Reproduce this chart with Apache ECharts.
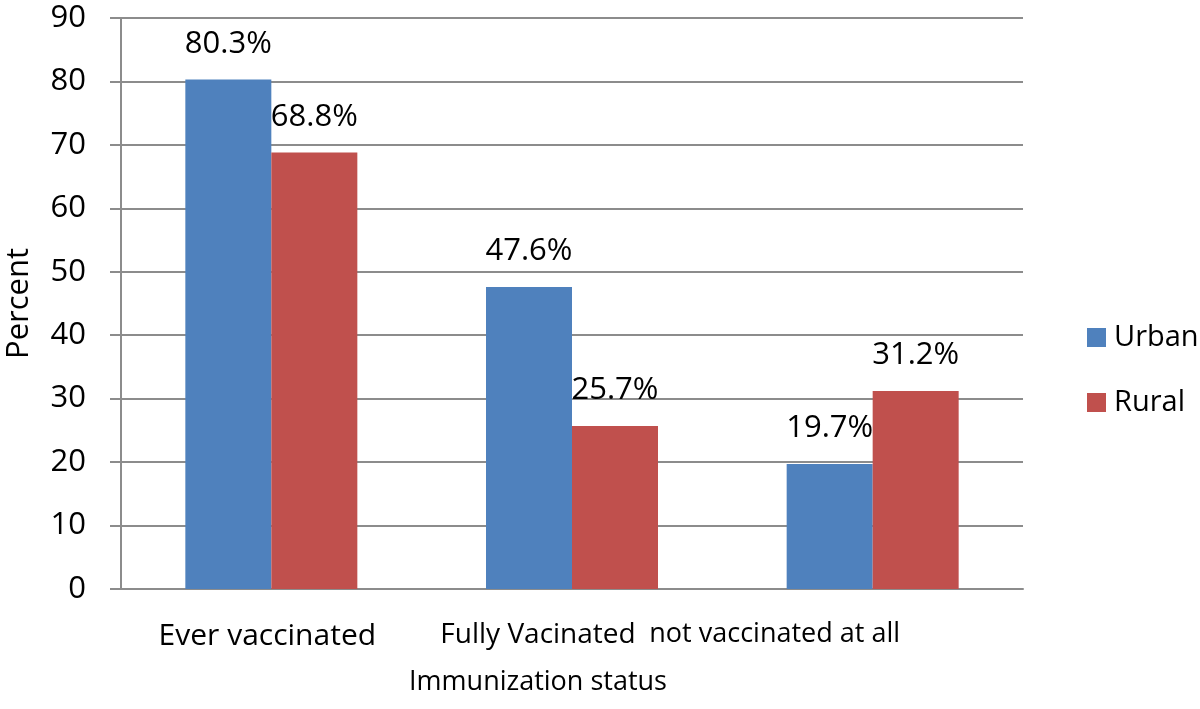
<!DOCTYPE html>
<html>
<head>
<meta charset="utf-8">
<script src="https://cdn.jsdelivr.net/npm/echarts@6/dist/echarts.min.js"></script>
<style>
html,body{margin:0;padding:0;background:#fff;}
#chart{width:1200px;height:709px;}
</style>
</head>
<body>
<div id="chart"></div>
<script>
const categories = ['Ever vaccinated', 'Fully Vacinated', 'not vaccinated at all'];
const urban = [80.3, 47.6, 19.7];
const rural = [68.8, 25.7, 31.2];
const seriesNames = ['Urban', 'Rural'];
const yTicks = { min: 0, max: 90, interval: 10 };
const xAxisTitle = 'Immunization status';
const yAxisTitle = 'Percent';

const FONT = '"Open Sans", sans-serif';
const FS = 31;
const GRID_COLOR = '#8c8c8c';
// shift of each category label (Excel placed them off-centre)
const labelStyleKeys = ['c0', 'c1', 'c2'];

const chart = echarts.init(document.getElementById('chart'), null, { renderer: 'canvas' });

const labelCfg = {
  show: true,
  position: 'top',
  distance: 20,
  color: '#000',
  fontFamily: FONT,
  fontSize: FS,
  formatter: p => p.value.toFixed(1) + '%'
};

chart.setOption({
  backgroundColor: '#fff',
  animation: false,
  textStyle: { fontFamily: FONT },
  grid: { left: 121, right: 177, top: 18, bottom: 120, containLabel: false, outerBoundsMode: 'none' },
  legend: {
    orient: 'vertical',
    left: 1082,
    top: 318,
    itemWidth: 19,
    itemHeight: 19,
    itemGap: 36,
    icon: 'rect',
    textStyle: { fontFamily: FONT, fontSize: 29, color: '#000', padding: [0, 0, 0, 3] },
    data: seriesNames
  },
  xAxis: {
    type: 'category',
    data: categories,
    name: xAxisTitle,
    nameLocation: 'middle',
    nameGap: 80,
    nameTextStyle: { fontFamily: FONT, fontSize: 27, color: '#000', padding: [0, 68, 0, 0] },
    axisLine: { show: true, lineStyle: { color: GRID_COLOR, width: 2 } },
    axisTick: { show: false },
    axisLabel: {
      interval: 0,
      margin: 32,
      color: '#000',
      fontFamily: FONT,
      fontSize: 28,
      formatter: (v, i) => '{' + labelStyleKeys[i] + '|' + v + '}',
      rich: {
        c0: { fontFamily: FONT, fontSize: 30, color: '#000', padding: [0, 8, 0, 0] },
        c1: { fontFamily: FONT, fontSize: 28, color: '#000', padding: [0, 68, 0, 0] },
        c2: { fontFamily: FONT, fontSize: 27, color: '#000', padding: [0, 196, 0, 0] }
      }
    },
    splitLine: { show: false }
  },
  yAxis: {
    type: 'value',
    min: yTicks.min,
    max: yTicks.max,
    interval: yTicks.interval,
    name: yAxisTitle,
    nameLocation: 'middle',
    nameRotate: 90,
    nameGap: 86,
    nameTextStyle: { fontFamily: FONT, fontSize: FS, color: '#000' },
    axisLine: { show: true, lineStyle: { color: GRID_COLOR, width: 2 } },
    axisTick: { show: true, length: 11, lineStyle: { color: GRID_COLOR, width: 2 } },
    axisLabel: { margin: 35, color: '#000', fontFamily: FONT, fontSize: FS },
    splitLine: { show: true, lineStyle: { color: GRID_COLOR, width: 2 } }
  },
  series: [
    {
      name: seriesNames[0],
      type: 'bar',
      data: urban,
      barWidth: 86,
      barGap: '0%',
      itemStyle: { color: '#4F81BD' },
      label: labelCfg
    },
    {
      name: seriesNames[1],
      type: 'bar',
      data: rural,
      barWidth: 86,
      barGap: '0%',
      itemStyle: { color: '#C0504D' },
      label: labelCfg
    }
  ]
});
</script>
</body>
</html>
